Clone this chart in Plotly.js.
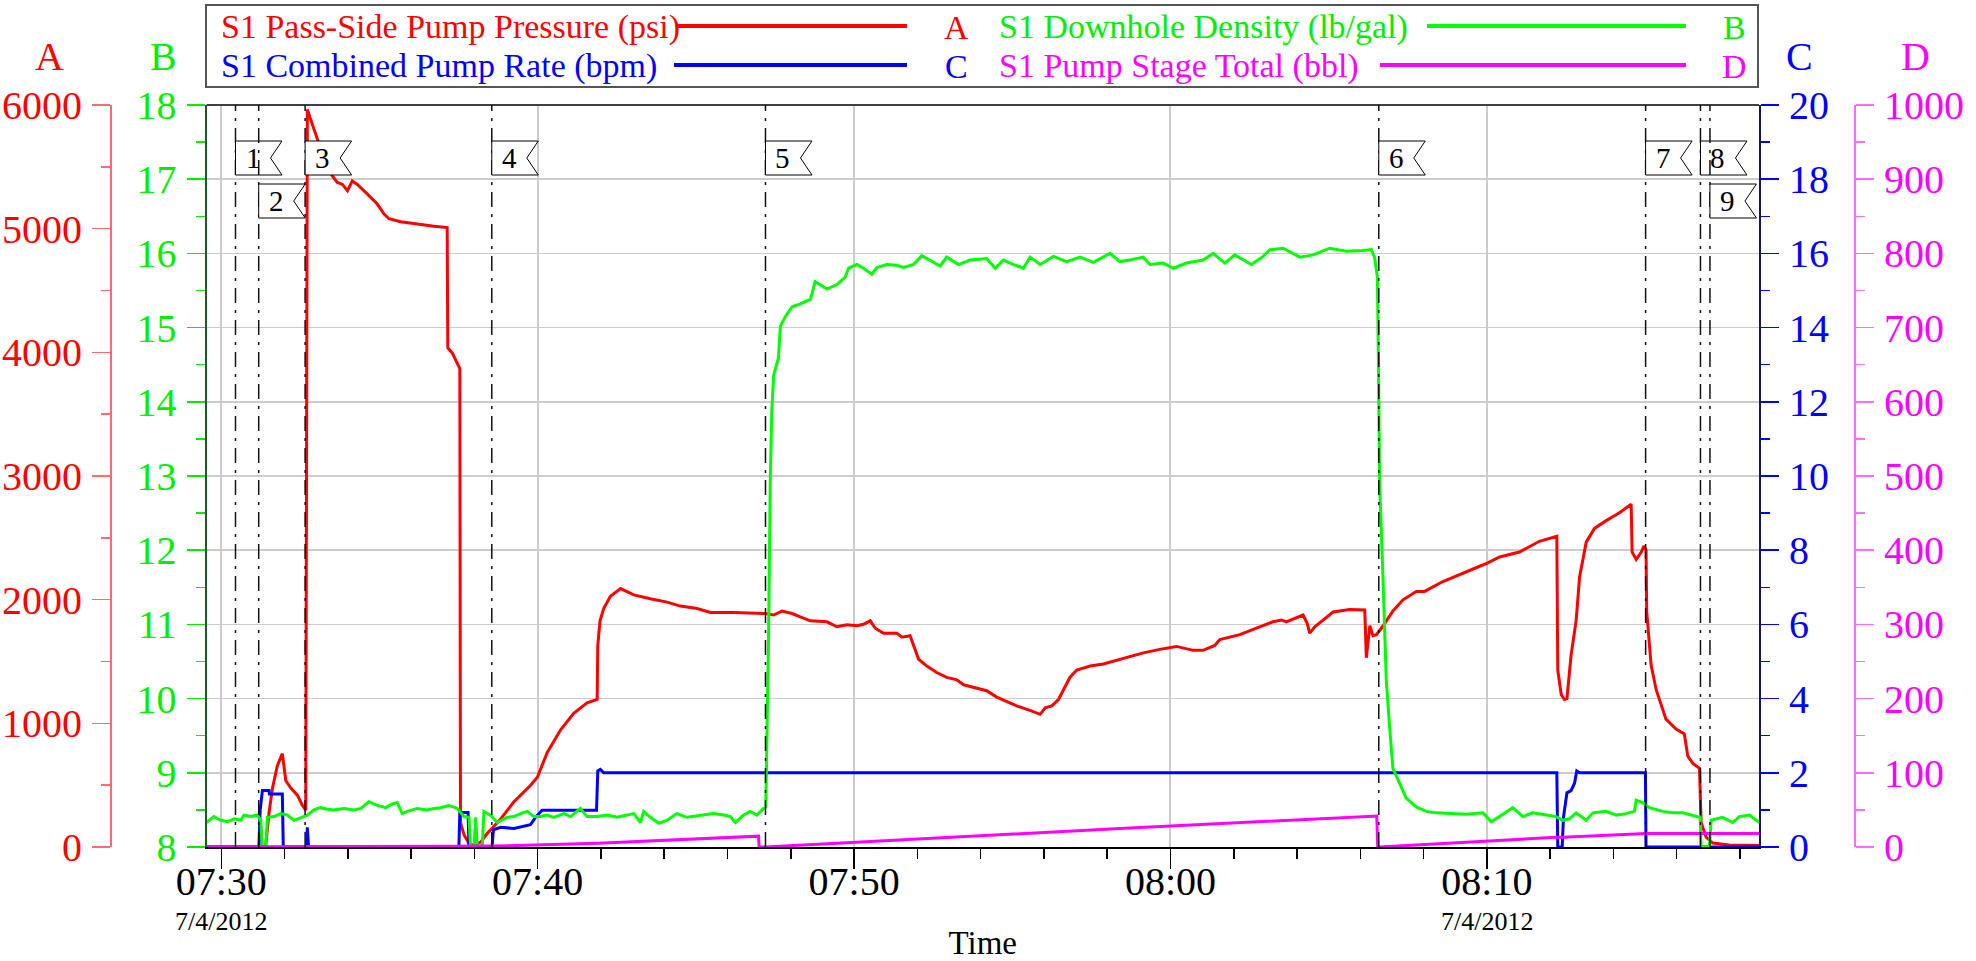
<!DOCTYPE html>
<html>
<head>
<meta charset="utf-8">
<script src="https://cdn.plot.ly/plotly-3.0.1.min.js"></script>
<style>html,body{margin:0;padding:0;background:#fff;}#chart{width:1976px;height:961px;}</style>
</head>
<body>
<div id="chart"></div>
<script>
// ---------------- DATA (time = minutes after 07:30:00 on 7/4/2012) ----------------
const pressMin = [-0.47,1.35,1.40,1.51,1.62,1.77,1.93,2.04,2.20,2.41,2.56,2.67,2.72,2.88,3.04,3.25,3.51,3.67,3.83,3.99,4.14,4.30,4.62,4.93,5.14,5.30,5.67,6.20,6.72,7.14,7.16,7.30,7.46,7.54,7.56,7.67,7.83,7.99,8.20,8.41,8.62,8.83,9.25,9.77,9.99,10.30,10.72,11.14,11.56,11.88,11.90,11.97,12.09,12.30,12.62,13.04,13.56,14.09,14.51,15.04,15.46,16.19,17.19,17.46,17.72,18.04,18.30,18.62,19.14,19.46,19.77,20.09,20.30,20.51,20.67,20.93,21.35,21.51,21.77,21.88,22.04,22.30,22.61,22.93,23.25,23.46,23.88,24.19,24.51,24.83,25.14,25.56,25.88,26.04,26.25,26.46,26.61,26.82,27.04,27.46,27.88,28.19,28.61,29.14,29.66,30.19,30.72,31.03,31.40,31.56,32.19,32.72,33.24,33.51,33.66,34.19,34.32,34.40,34.56,35.14,35.66,36.14,36.19,36.30,36.40,36.51,36.72,37.03,37.35,37.77,38.03,38.61,39.14,39.66,40.03,40.40,41.03,41.66,42.21,42.24,42.35,42.45,42.53,42.66,42.82,42.93,43.14,43.40,43.77,44.19,44.56,44.59,44.72,44.88,44.96,45.03,45.05,45.19,45.35,45.66,45.98,46.24,46.35,46.51,46.72,46.77,46.93,47.14,47.66,48.60];
const pressPsi = [0,0,0,278,477,656,755,537,477,417,338,298,5963,5843,5724,5565,5426,5374,5358,5307,5386,5358,5279,5199,5120,5080,5056,5036,5020,5009,4035,3995,3915,3868,199,99,28,12,40,111,167,227,366,497,564,763,946,1081,1165,1193,1630,1829,1930,2027,2090,2039,2007,1980,1948,1928,1896,1896,1888,1876,1908,1888,1860,1829,1821,1781,1797,1789,1801,1829,1769,1729,1729,1697,1709,1630,1518,1463,1411,1371,1352,1312,1284,1264,1212,1173,1141,1105,1073,1125,1141,1193,1272,1371,1431,1463,1480,1503,1530,1570,1598,1622,1590,1590,1630,1677,1717,1769,1821,1836,1821,1876,1809,1729,1781,1900,1920,1916,1530,1789,1709,1717,1789,1908,1999,2067,2067,2147,2206,2258,2298,2345,2385,2472,2512,1431,1232,1193,1200,1550,1829,2186,2465,2576,2639,2703,2771,2385,2325,2385,2433,2405,1908,1471,1272,1034,954,914,735,676,636,199,79,32,16,12];

const densMin = [-0.47,-0.23,-0.02,0.20,0.41,0.62,0.72,0.93,1.14,1.25,1.30,1.40,1.46,1.67,1.88,2.09,2.30,2.51,2.72,2.93,3.14,3.35,3.56,3.88,4.20,4.41,4.67,4.93,5.20,5.41,5.56,5.72,5.88,6.20,6.51,6.72,6.93,7.20,7.46,7.67,7.83,7.88,7.99,8.04,8.09,8.25,8.30,8.51,8.72,9.04,9.25,9.46,9.67,9.88,10.09,10.30,10.51,10.83,11.04,11.35,11.56,11.88,12.20,12.51,13.04,13.25,13.35,13.56,13.83,14.09,14.40,14.72,15.14,15.56,15.88,16.09,16.25,16.51,16.72,16.93,17.14,17.21,17.25,17.30,17.35,17.40,17.46,17.61,17.67,17.83,18.04,18.30,18.62,18.77,19.14,19.46,19.72,19.83,20.09,20.30,20.56,20.72,21.04,21.35,21.56,21.88,22.14,22.40,22.72,22.93,23.30,23.67,24.19,24.46,24.72,25.04,25.35,25.56,25.88,26.30,26.72,27.14,27.56,28.09,28.40,28.72,29.14,29.35,29.77,30.09,30.51,31.03,31.35,31.72,32.03,32.56,32.93,33.14,33.56,34.09,34.51,35.03,35.56,36.09,36.35,36.45,36.54,36.58,36.61,36.72,36.82,36.93,37.03,37.24,37.45,37.77,38.09,38.40,38.93,39.35,39.88,40.14,40.40,40.82,41.14,41.45,41.88,42.19,42.40,42.61,42.82,43.14,43.35,43.77,44.09,44.40,44.66,44.72,44.93,45.14,45.56,45.88,46.19,46.61,46.74,46.77,47.03,47.09,47.45,47.77,47.98,48.30,48.61];
const densPpg = [8.33,8.41,8.36,8.34,8.38,8.36,8.43,8.41,8.43,8.36,8.00,8.00,8.40,8.41,8.45,8.43,8.36,8.40,8.43,8.50,8.53,8.51,8.50,8.52,8.50,8.52,8.61,8.56,8.53,8.58,8.60,8.45,8.48,8.52,8.50,8.52,8.53,8.56,8.52,8.41,8.40,8.00,8.00,8.40,8.00,8.00,8.48,8.43,8.33,8.40,8.41,8.45,8.48,8.41,8.41,8.43,8.40,8.45,8.41,8.52,8.41,8.41,8.43,8.40,8.45,8.33,8.48,8.40,8.32,8.36,8.45,8.40,8.43,8.45,8.43,8.41,8.33,8.43,8.48,8.43,8.52,8.54,9.59,10.91,12.90,13.89,14.36,14.59,15.02,15.15,15.28,15.32,15.38,15.62,15.52,15.58,15.68,15.80,15.85,15.80,15.72,15.81,15.85,15.84,15.81,15.85,15.97,15.91,15.83,15.95,15.85,15.91,15.93,15.80,15.91,15.85,15.80,15.95,15.85,15.96,15.89,15.95,15.88,16.00,15.89,15.91,15.95,15.85,15.87,15.80,15.87,15.91,16.00,15.87,15.98,15.85,15.96,16.05,16.07,15.95,15.98,16.07,16.03,16.04,16.05,15.95,15.68,14.23,12.90,11.58,10.25,9.59,9.06,8.86,8.66,8.54,8.48,8.46,8.45,8.44,8.46,8.34,8.41,8.53,8.41,8.46,8.43,8.41,8.36,8.38,8.46,8.36,8.46,8.48,8.43,8.45,8.48,8.63,8.60,8.53,8.48,8.46,8.46,8.41,8.40,8.00,8.00,8.36,8.40,8.33,8.41,8.43,8.33];

const rateMin = [-0.47,1.19,1.23,1.30,1.51,1.52,1.93,1.96,2.70,2.72,2.76,7.51,7.54,7.80,7.83,8.56,8.60,8.83,9.25,9.77,9.93,10.14,11.86,11.90,11.98,12.09,42.21,42.24,42.38,42.42,42.53,42.66,42.77,42.84,42.93,45.01,45.03,48.60];
const rateBpm = [0,0,1.00,1.52,1.52,1.43,1.43,0,0,0.53,0,0,0.93,0.93,0,0,0.46,0.53,0.50,0.60,0.80,0.99,0.99,2.05,2.09,2.00,2.00,0,0,0.80,1.46,1.52,1.72,2.05,2.00,2.00,0,0];

const stageMin = [-0.47,1.20,1.95,7.50,7.83,8.60,9.90,11.90,16.98,17.00,17.20,28.40,36.52,36.55,36.60,40.40,42.20,42.40,45.03,48.60];
const stageBbl = [0,0,1.0,1.0,1.3,1.3,2.6,5.2,14.6,0,0,25.0,41.7,0,0,9.5,13.2,13.2,18.3,18.3];

const markerTimes  = ['07:30:27','07:31:11','07:32:39','07:38:33','07:47:12','08:06:35','08:15:01','08:16:45','08:17:03'];
const markerLabels = ['1','2','3','4','5','6','7','8','9'];

const seriesNames = ['S1 Pass-Side Pump Pressure (psi)','S1 Downhole Density (lb/gal)','S1 Combined Pump Rate (bpm)','S1 Pump Stage Total (bbl)'];
const axisLetters = ['A','B','C','D'];

// ---------------- HELPERS ----------------
const DAY = '2012-07-04';
const T0 = Date.UTC(2012, 6, 4, 7, 30, 0);
function toDate(m){ return new Date(T0 + m * 60000).toISOString().slice(0, 23).replace('T', ' '); }
const X_START = DAY + ' 07:29:32', X_END = DAY + ' 08:18:36';

const FONT = "'Liberation Serif', 'Times New Roman', serif";
const RED = '#ff0000', GREEN = '#00ff00', GREENTXT = '#00ee00', BLUE = '#0000ff', MAG = '#ff00ff';

const W = 1976, H = 961;
const PAPER_L = 111, PAPER_R = 1855, PLOT_L = 206.5, PLOT_R = 1759, PLOT_T = 105, PLOT_B = 847;
const pW = PAPER_R - PAPER_L, pH = PLOT_B - PLOT_T;
const px2x = p => (p - PAPER_L) / pW;
const px2y = p => (PLOT_B - p) / pH;

// ---------------- TRACES ----------------
const traces = [
  {x: pressMin.map(toDate), y: pressPsi, yaxis: 'y',  type: 'scatter', mode: 'lines', name: seriesNames[0], line: {color: RED, width: 3}},
  {x: rateMin.map(toDate),  y: rateBpm,  yaxis: 'y2', type: 'scatter', mode: 'lines', name: seriesNames[2], line: {color: BLUE, width: 3}},
  {x: densMin.map(toDate),  y: densPpg,  yaxis: 'y3', type: 'scatter', mode: 'lines', name: seriesNames[1], line: {color: GREEN, width: 3}},
  {x: stageMin.map(toDate), y: stageBbl, yaxis: 'y4', type: 'scatter', mode: 'lines', name: seriesNames[3], line: {color: MAG, width: 3}}
];

// ---------------- SHAPES / ANNOTATIONS ----------------
const shapes = [], annotations = [];

// plot top border
shapes.push({type: 'line', xref: 'paper', yref: 'paper', x0: px2x(PLOT_L), x1: px2x(PLOT_R), y0: 1, y1: 1, line: {color: '#404040', width: 2}});

// event markers with flags
const xStartMs = new Date(X_START.replace(' ', 'T') + 'Z').getTime();
const xEndMs = new Date(X_END.replace(' ', 'T') + 'Z').getTime();
const pxPerMs = (PLOT_R - PLOT_L) / (xEndMs - xStartMs);
const FLAG_W = 46.5, FLAG_H = 34, ROW_STEP = 43, FLAG_TOP = 36, NOTCH = 11.5;
const rowRight = [];
markerTimes.forEach((tm, i) => {
  const xd = DAY + ' ' + tm;
  const px = (new Date(xd.replace(' ', 'T') + 'Z').getTime() - xStartMs) * pxPerMs;
  let r = 0;
  while (rowRight[r] !== undefined && px < rowRight[r]) r++;
  rowRight[r] = px + FLAG_W;
  shapes.push({type: 'line', xref: 'x', yref: 'paper', x0: xd, x1: xd, y0: 0, y1: 1, layer: 'above',
    line: {color: '#111', width: 1.5, dash: '15px,7px,3px,7px'}});
  const top = -(FLAG_TOP + r * ROW_STEP), bot = top - FLAG_H, mid = (top + bot) / 2;
  shapes.push({type: 'path', xref: 'x', yref: 'paper', xsizemode: 'pixel', ysizemode: 'pixel', xanchor: xd, yanchor: 1, layer: 'above',
    path: `M0,${top} L${FLAG_W},${top} L${FLAG_W - NOTCH},${mid} L${FLAG_W},${bot} L0,${bot} Z`,
    fillcolor: '#ffffff', line: {color: '#000', width: 1}});
  annotations.push({xref: 'x', yref: 'paper', x: xd, y: 1, xshift: 17.5, yshift: mid, xanchor: 'center', yanchor: 'middle',
    text: markerLabels[i], showarrow: false, font: {family: FONT, size: 29, color: '#000'}});
});

// legend box
shapes.push({type: 'rect', xref: 'paper', yref: 'paper', x0: px2x(206), x1: px2x(1758), y0: px2y(5), y1: px2y(87), line: {color: '#555', width: 2}, fillcolor: 'rgba(0,0,0,0)'});
const legendRows = [
  {name: seriesNames[0], color: RED,   letter: axisLetters[0], tx: 219, l0: 676,  l1: 907,  lx: 956,  y: 27},
  {name: seriesNames[1], color: GREEN, letter: axisLetters[1], tx: 997, l0: 1427, l1: 1686, lx: 1734, y: 27, txtColor: GREENTXT},
  {name: seriesNames[2], color: BLUE,  letter: axisLetters[2], tx: 219, l0: 674,  l1: 907,  lx: 956,  y: 66},
  {name: seriesNames[3], color: MAG,   letter: axisLetters[3], tx: 997, l0: 1380, l1: 1686, lx: 1734, y: 66}
];
legendRows.forEach(e => {
  const c = e.txtColor || e.color;
  annotations.push({xref: 'paper', yref: 'paper', x: px2x(e.tx), y: px2y(e.y), xanchor: 'left', yanchor: 'middle', showarrow: false,
    text: e.name, font: {family: FONT, size: 34, color: c}});
  shapes.push({type: 'line', xref: 'paper', yref: 'paper', x0: px2x(e.l0), x1: px2x(e.l1), y0: px2y(e.y - 1), y1: px2y(e.y - 1), line: {color: e.color, width: 4}});
  annotations.push({xref: 'paper', yref: 'paper', x: px2x(e.lx), y: px2y(e.y), xanchor: 'center', yanchor: 'middle', showarrow: false,
    text: e.letter, font: {family: FONT, size: 34, color: c}});
});

// axis letters
[[49, axisLetters[0], RED], [163, axisLetters[1], GREENTXT], [1799, axisLetters[2], BLUE], [1915, axisLetters[3], MAG]].forEach(a => {
  annotations.push({xref: 'paper', yref: 'paper', x: px2x(a[0]), y: px2y(57), xanchor: 'center', yanchor: 'middle', showarrow: false,
    text: a[1], font: {family: FONT, size: 40, color: a[2]}});
});

// date under selected time ticks
['07:30', '08:10'].forEach(t => {
  annotations.push({xref: 'x', yref: 'paper', x: DAY + ' ' + t, y: px2y(921), xanchor: 'center', yanchor: 'middle', showarrow: false,
    text: '7/4/2012', font: {family: FONT, size: 26, color: '#000'}});
});

// ---------------- LAYOUT ----------------
function yax(o) {
  return Object.assign({
    showgrid: false, zeroline: false, showline: true, linewidth: 2, ticks: 'outside', ticklen: 18, tickwidth: 1.5,
    ticklabelstandoff: 2, fixedrange: true, automargin: false
  }, o);
}
const layout = {
  width: W, height: H,
  paper_bgcolor: '#fff', plot_bgcolor: '#fff',
  margin: {l: PAPER_L, r: W - PAPER_R, t: PLOT_T, b: H - PLOT_B, autoexpand: false},
  showlegend: false,
  font: {family: FONT, color: '#000'},
  xaxis: {
    type: 'date', domain: [px2x(PLOT_L), px2x(PLOT_R)], range: [X_START, X_END],
    tick0: DAY + ' 07:30', dtick: 600000, tickformat: '%H:%M',
    ticks: 'outside', ticklen: 20, tickwidth: 1.5, tickcolor: '#000',
    ticklabelstandoff: -22,
    showgrid: true, gridcolor: '#cccccc', gridwidth: 2,
    showline: true, linecolor: '#000', linewidth: 2, zeroline: false,
    tickfont: {family: FONT, size: 40, color: '#000'},
    minor: {dtick: 120000, tick0: DAY + ' 07:30', ticks: 'outside', ticklen: 10, tickwidth: 1.5, tickcolor: '#000', showgrid: false},
    title: {text: 'Time', font: {family: FONT, size: 33, color: '#000'}, standoff: 28},
    automargin: false, fixedrange: true
  },
  yaxis: yax({
    anchor: 'free', position: 0, side: 'left', range: [0, 6000], dtick: 1000,
    linecolor: '#ff6a6a', tickcolor: '#ff6a6a', tickfont: {family: FONT, size: 40, color: RED},
    minor: {dtick: 500, ticks: 'outside', ticklen: 9, tickwidth: 1.5, tickcolor: '#ff6a6a', showgrid: false}
  }),
  yaxis2: yax({
    overlaying: 'y', anchor: 'x', side: 'right', range: [0, 20], dtick: 2,
    linecolor: '#151560', tickcolor: BLUE, tickfont: {family: FONT, size: 40, color: BLUE},
    minor: {dtick: 1, ticks: 'outside', ticklen: 9, tickwidth: 1.5, tickcolor: BLUE, showgrid: false}
  }),
  yaxis3: yax({
    overlaying: 'y', anchor: 'x', side: 'left', range: [8, 18], dtick: 1,
    showgrid: true, gridcolor: '#cccccc', gridwidth: 1.5,
    linecolor: '#1e5a1e', tickcolor: GREENTXT, tickfont: {family: FONT, size: 40, color: GREENTXT},
    minor: {dtick: 0.5, ticks: 'outside', ticklen: 9, tickwidth: 1.5, tickcolor: GREENTXT, showgrid: false}
  }),
  yaxis4: yax({
    overlaying: 'y', anchor: 'free', position: 1, side: 'right', range: [0, 1000], dtick: 100,
    linecolor: '#ff6aff', tickcolor: '#ff6aff', tickfont: {family: FONT, size: 40, color: MAG},
    minor: {dtick: 50, ticks: 'outside', ticklen: 9, tickwidth: 1.5, tickcolor: '#ff6aff', showgrid: false}
  }),
  shapes: shapes,
  annotations: annotations
};

Plotly.newPlot('chart', traces, layout, {displayModeBar: false, staticPlot: true});
</script>
</body>
</html>
